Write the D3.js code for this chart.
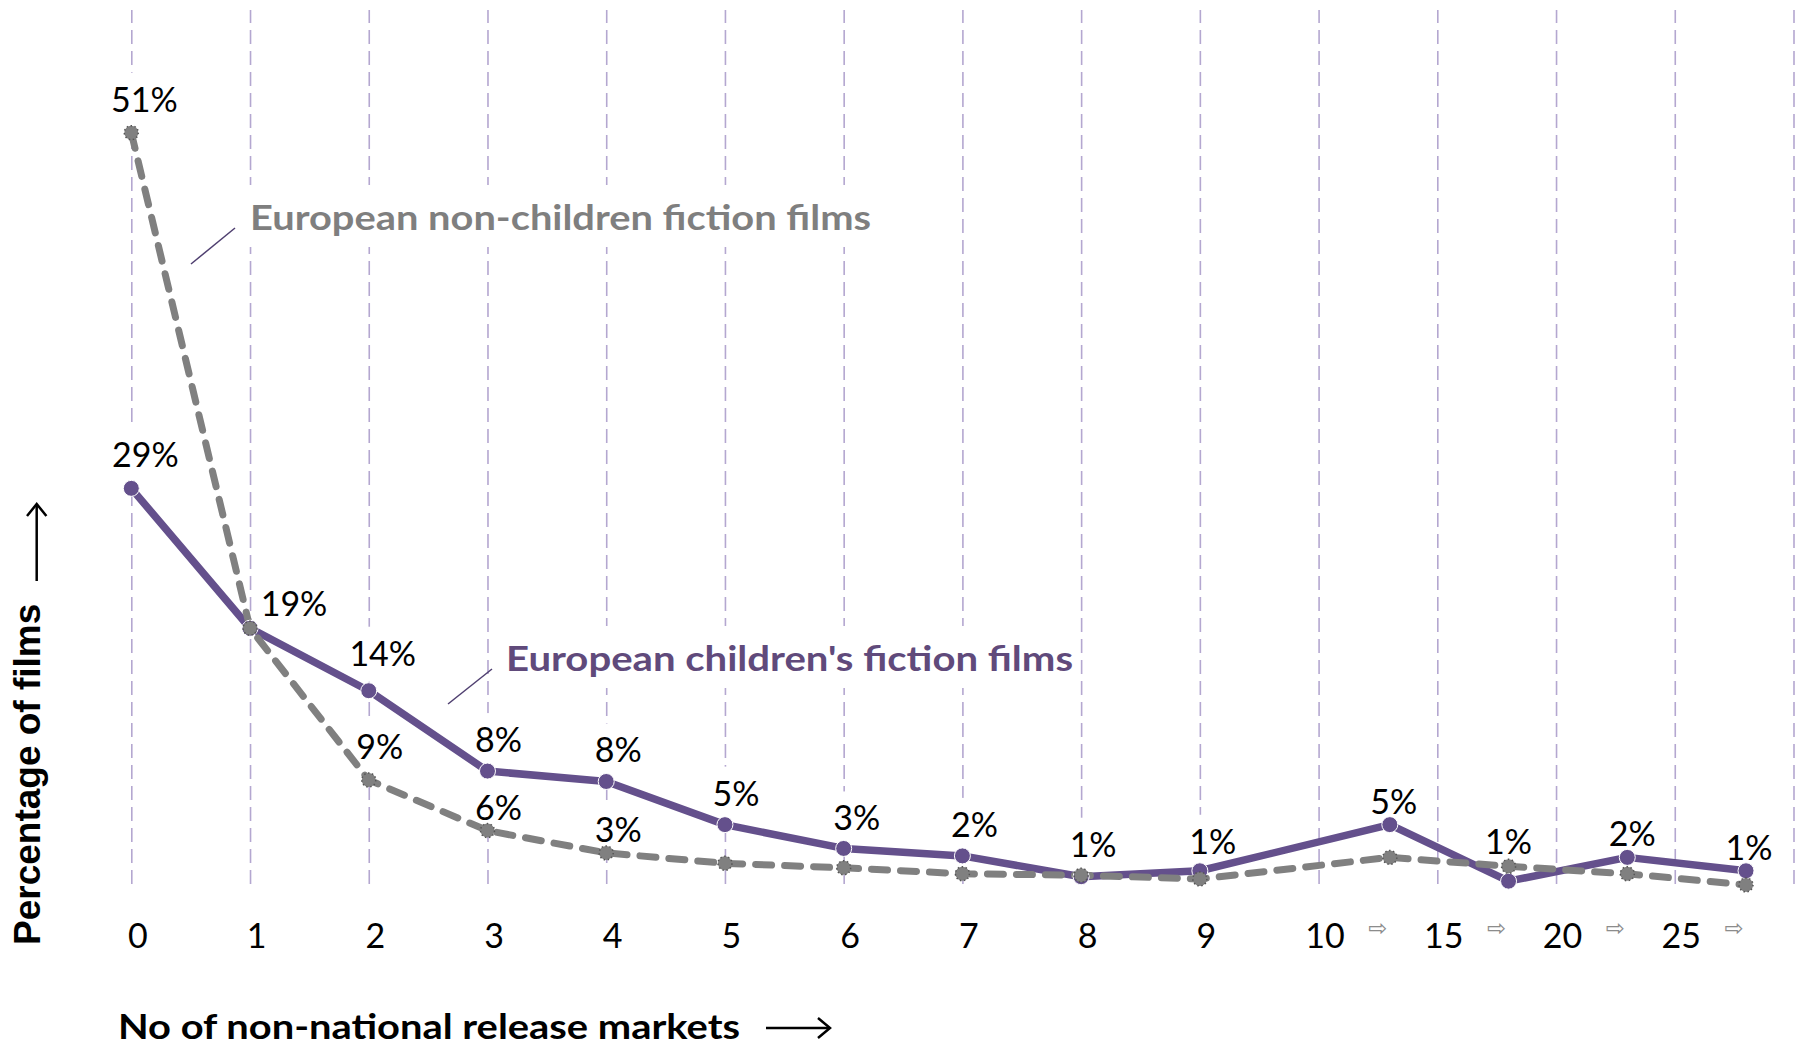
<!DOCTYPE html>
<html lang="en">
<head>
    <meta charset="UTF-8">
    <title>Non-national release markets</title>
    <script src="https://d3js.org/d3.v7.min.js"></script>
    <style>
        body {
            margin: 0;
            background: #fff;
        }

        .grid line {
            stroke: #b4a7d0;
            stroke-width: 1.6px;
            stroke-dasharray: 14 7;
        }

        .grid .domain {
            display: none;
        }

        .xaxis .domain,
        .xaxis line {
            display: none;
        }

        .xaxis text,
        .value-label {
            font-family: Lato, "Noto Sans", sans-serif;
            font-size: 34px;
            fill: #000;
        }

        .line {
            fill: none;
        }
    </style>
</head>
<body>
    <svg id="chart" width="1805" height="1048"></svg>
    <script>
        // categories on the x axis (last four are ranges: 10-15, 15-20, 20-25, 25+)
        const categories = ["0", "1", "2", "3", "4", "5", "6", "7", "8", "9", "10-15", "15-20", "20-25", "25+"];
        const tickLabels = ["0", "1", "2", "3", "4", "5", "6", "7", "8", "9", "10", "15", "20", "25"];

        // percentage of films
        const childrensValues = [27.1, 17.7, 13.5, 8.1, 7.4, 4.5, 2.9, 2.4, 1.0, 1.4, 4.5, 0.7, 2.3, 1.4];
        const nonChildrensValues = [51.0, 17.7, 7.5, 4.1, 2.6, 1.9, 1.6, 1.2, 1.1, 0.85, 2.3, 1.7, 1.2, 0.45];

        // data labels as printed on the chart (null = no label)
        const childrensLabels = ["29%", "19%", "14%", "8%", "8%", "5%", "3%", "2%", "1%", "1%", "5%", "1%", "2%", "1%"];
        const nonChildrensLabels = ["51%", null, "9%", "6%", "3%", null, null, null, null, null, null, null, null, null];

        // label placement relative to its point: [dx to text centre, dy to baseline]
        const childrensNudge = [[14, -21], [44, -12], [14, -25], [11, -19], [12, -19], [11, -19], [13, -18],
                                [12, -19], [12, -20], [13, -17], [4, -11], [0, -27], [5, -11], [3, -11]];
        const nonChildrensNudge = [[13, -21], null, [11, -21], [11, -11], [12, -11]];

        const purple = "#64508c";
        const gray = "#808080";

        const svg = d3.select("#chart");

        // one band per category, range categories sit a bit past the middle of their band
        const x = d3.scaleLinear().domain([0, 14]).range([131.3, 1793.5]);
        const y = d3.scaleLinear().domain([0, 51]).range([891.6, 132.7]);
        const xPos = i => (i < 10 ? i : i + 0.6);

        // dashed vertical gridlines
        svg.append("g")
            .attr("class", "grid")
            .attr("transform", "translate(0,884)")
            .call(d3.axisBottom(x).tickValues(d3.range(0, 15)).tickSize(-874).tickFormat(""));

        // tick labels
        const xAxis = svg.append("g")
            .attr("class", "xaxis")
            .attr("transform", "translate(6,0)")
            .call(d3.axisBottom(x).tickValues(d3.range(0, 14)).tickSize(0).tickFormat(i => tickLabels[i]));
        xAxis.selectAll("text").attr("y", 948).attr("dy", 0);

        // small arrows between the range labels
        svg.append("g")
            .selectAll("text")
            .data(d3.range(10, 14))
            .join("text")
            .attr("x", d => x(d + 0.5))
            .attr("y", 936)
            .attr("text-anchor", "middle")
            .style("font-family", "DejaVu Sans, sans-serif")
            .style("font-size", "23px")
            .style("fill", "#8c8c8c")
            .text("\u21E8");

        // label backgrounds go in first so they hide the gridlines only
        const bgLayer = svg.append("g");
        const lineLayer = svg.append("g");
        const labelLayer = svg.append("g");

        function labelData(values, labels, nudge) {
            return labels.map((t, i) => t == null ? null : {
                text: t,
                x: x(xPos(i)) + nudge[i][0],
                y: y(values[i]) + nudge[i][1]
            }).filter(d => d);
        }

        const allLabels = labelData(nonChildrensValues, nonChildrensLabels, nonChildrensNudge)
            .concat(labelData(childrensValues, childrensLabels, childrensNudge));

        const labelText = labelLayer.selectAll("text")
            .data(allLabels)
            .join("text")
            .attr("class", "value-label")
            .attr("x", d => d.x)
            .attr("y", d => d.y)
            .attr("text-anchor", "middle")
            .text(d => d.text);

        labelText.each(function () {
            const b = this.getBBox();
            bgLayer.append("rect")
                .attr("x", b.x - 3)
                .attr("y", b.y - 5)
                .attr("width", b.width + 6)
                .attr("height", b.height + 14)
                .attr("fill", "#fff");
        });

        const line = d3.line()
            .x((d, i) => x(xPos(i)))
            .y(d => y(d));

        // children's series
        lineLayer.append("path")
            .datum(childrensValues)
            .attr("class", "line")
            .attr("stroke", purple)
            .attr("stroke-width", 7.5)
            .attr("stroke-linejoin", "round")
            .attr("d", line);

        // non-children series (drawn on top, dashed)
        lineLayer.append("path")
            .datum(nonChildrensValues)
            .attr("class", "line")
            .attr("stroke", gray)
            .attr("stroke-width", 7)
            .attr("stroke-dasharray", "16 13")
            .attr("stroke-linecap", "round")
            .attr("d", line);

        lineLayer.append("g")
            .selectAll("circle")
            .data(childrensValues)
            .join("circle")
            .attr("cx", (d, i) => x(xPos(i)))
            .attr("cy", d => y(d))
            .attr("r", 8)
            .attr("fill", purple)
            .attr("stroke", "#fff")
            .attr("stroke-width", 1);

        lineLayer.append("g")
            .selectAll("circle")
            .data(nonChildrensValues)
            .join("circle")
            .attr("cx", (d, i) => x(xPos(i)))
            .attr("cy", d => y(d))
            .attr("r", 7)
            .attr("fill", gray)
            .attr("stroke", "#555")
            .attr("stroke-width", 1.5)
            .attr("stroke-dasharray", "1.5 2.5");

        // series names with leader lines
        function seriesName(text, x0, base, width, color, lead) {
            const t = svg.append("text")
                .attr("x", x0)
                .attr("y", base)
                .attr("textLength", width)
                .attr("lengthAdjust", "spacingAndGlyphs")
                .style("font-family", "Lato, sans-serif")
                .style("font-weight", "bold")
                .style("font-size", "35px")
                .style("fill", color)
                .text(text);
            const b = t.node().getBBox();
            bgLayer.append("rect")
                .attr("x", b.x - 4)
                .attr("y", base - 45)
                .attr("width", b.width + 8)
                .attr("height", 62)
                .attr("fill", "#fff");
            svg.append("line")
                .attr("x1", lead[0]).attr("y1", lead[1])
                .attr("x2", lead[2]).attr("y2", lead[3])
                .attr("stroke", "#4f3f70")
                .attr("stroke-width", 1.5);
        }

        seriesName("European non-children fiction films", 250, 230, 621, "#7f7f7f", [191, 264, 235, 228]);
        seriesName("European children's fiction films", 506, 671, 567, "#604a7b", [448, 704, 492, 669]);

        // axis titles
        svg.append("text")
            .attr("transform", "translate(40,945) rotate(-90)")
            .style("font-family", "Liberation Sans, Arial, sans-serif")
            .style("font-weight", "bold")
            .style("font-size", "37px")
            .text("Percentage of films");

        svg.append("line")
            .attr("x1", 36.7).attr("y1", 581)
            .attr("x2", 36.7).attr("y2", 505)
            .attr("stroke", "#000")
            .attr("stroke-width", 2.5);
        svg.append("path")
            .attr("d", "M27,516 L36.7,504 L46.4,516")
            .attr("fill", "none")
            .attr("stroke", "#000")
            .attr("stroke-width", 2.5);

        svg.append("text")
            .attr("x", 118)
            .attr("y", 1039)
            .attr("textLength", 622)
            .attr("lengthAdjust", "spacingAndGlyphs")
            .style("font-family", "Lato, sans-serif")
            .style("font-weight", "bold")
            .style("font-size", "34px")
            .text("No of non-national release markets");

        svg.append("line")
            .attr("x1", 766).attr("y1", 1028)
            .attr("x2", 829).attr("y2", 1028)
            .attr("stroke", "#000")
            .attr("stroke-width", 2.5);
        svg.append("path")
            .attr("d", "M818,1018 L830,1028 L818,1038")
            .attr("fill", "none")
            .attr("stroke", "#000")
            .attr("stroke-width", 2.5);
    </script>
</body>
</html>
